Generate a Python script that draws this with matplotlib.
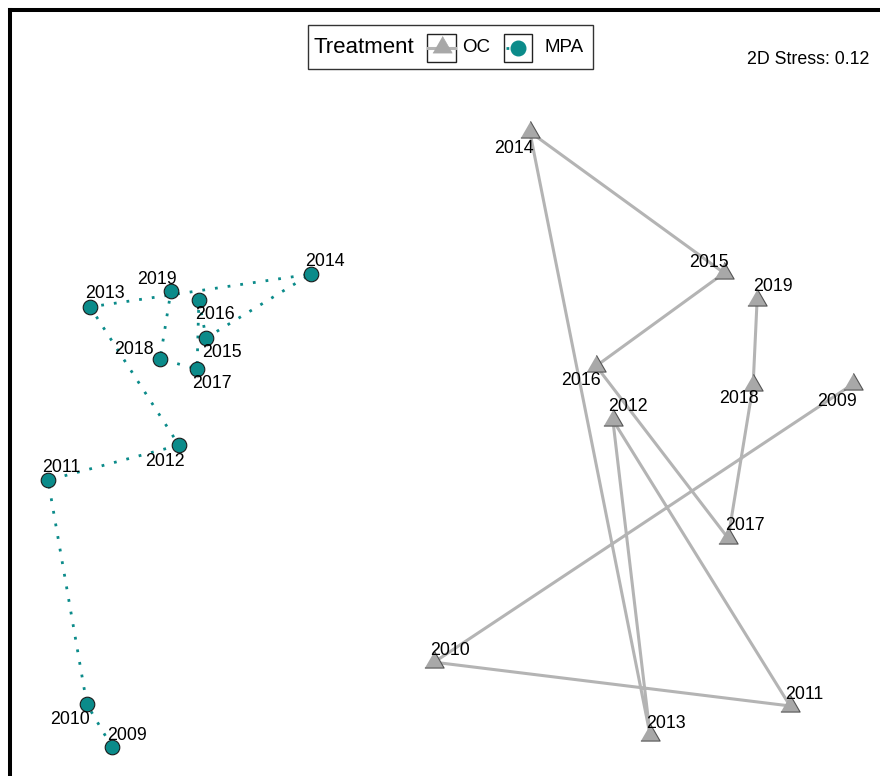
import matplotlib
matplotlib.use("Agg")
import matplotlib.pyplot as plt
import matplotlib.patches as mpatches

plt.rcParams["font.family"] = ["Liberation Sans", "DejaVu Sans"]

# NMDS site scores per year, one series per treatment
years = [2009, 2010, 2011, 2012, 2013, 2014, 2015, 2016, 2017, 2018, 2019]

mpa_nmds1 = [-0.919, -0.988, -1.095, -0.734, -0.979, -0.370, -0.659, -0.679, -0.684, -0.786, -0.756]
mpa_nmds2 = [-0.920, -0.803, -0.189, -0.093, 0.286, 0.376, 0.201, 0.305, 0.116, 0.143, 0.330]

oc_nmds1 = [1.126, -0.030, 0.952, 0.463, 0.566, 0.234, 0.770, 0.417, 0.781, 0.850, 0.861]
oc_nmds2 = [0.075, -0.688, -0.808, -0.024, -0.888, 0.766, 0.379, 0.124, -0.348, 0.072, 0.305]

stress = 0.12

# label nudges in pixels (dx right, dy down)
mpa_nudge = [(15, -11), (-17, 15), (13, -13), (-14, 16), (15, -13), (14, -13),
             (16, 15), (16, 15), (15, 15), (-26, -10), (-14, -11)]
oc_nudge = [(-16, 18), (16, -12), (14, -11), (15, -13), (16, -12), (-16, 17),
            (-15, -10), (-15, 14), (17, -13), (-14, 14), (16, -13)]

TEAL = "#0B8B8A"
GREY_LINE = "#B4B4B4"
GREY_FILL = "#A8A8A8"
TRI = [(-1, -0.577), (1, -0.577), (0, 1.155)]
LABEL_SIZE = 12.8

W, H = 880, 776
fig = plt.figure(figsize=(W / 100, H / 100), dpi=100)
ax = fig.add_axes([10 / W, 0, 1 - 10 / W, 1 - 10 / H])
ax.set_xlim(-1.2, 1.2)
ax.set_ylim(-1.0, 1.1)
ax.set_xticks([])
ax.set_yticks([])
for side in ["right", "bottom"]:
    ax.spines[side].set_visible(False)
for side in ["left", "top"]:
    ax.spines[side].set_linewidth(2.9)
    ax.spines[side].set_color("black")

# OC trajectory
ax.plot(oc_nmds1, oc_nmds2, color=GREY_LINE, lw=2.2, zorder=1, solid_capstyle="round")
ax.plot(oc_nmds1, oc_nmds2, linestyle="none", marker=TRI, markersize=16,
        markerfacecolor=GREY_FILL, markeredgecolor="#555555", markeredgewidth=0.8, zorder=3)

# MPA trajectory
ax.plot(mpa_nmds1, mpa_nmds2, color=TEAL, lw=2.0, dashes=(1, 3.6), zorder=1)
ax.plot(mpa_nmds1, mpa_nmds2, linestyle="none", marker="o", markersize=10.5,
        markerfacecolor=TEAL, markeredgecolor="#1a1a1a", markeredgewidth=0.8, zorder=3)

for yr, x, y, (dx, dy) in zip(years, mpa_nmds1, mpa_nmds2, mpa_nudge):
    ax.annotate(str(yr), (x, y), xytext=(dx, -dy), textcoords="offset pixels",
                ha="center", va="center", fontsize=LABEL_SIZE, zorder=4)
for yr, x, y, (dx, dy) in zip(years, oc_nmds1, oc_nmds2, oc_nudge):
    ax.annotate(str(yr), (x, y), xytext=(dx, -dy), textcoords="offset pixels",
                ha="center", va="center", fontsize=LABEL_SIZE, zorder=4)

# overlay in pixel units for legend and stress note
ov = fig.add_axes([0, 0, 1, 1], zorder=5)
ov.set_xlim(0, W)
ov.set_ylim(H, 0)
ov.axis("off")

ov.text(869, 60, f"2D Stress: {stress:.2f}", ha="right", va="center", fontsize=12.8)

ov.add_patch(mpatches.Rectangle((308, 25), 285, 44, fill=False, edgecolor="#333333", lw=1.0))
ov.text(313, 47.5, "Treatment", ha="left", va="center", fontsize=16)

ov.add_patch(mpatches.Rectangle((427, 34), 29, 28, fill=False, edgecolor="#222222", lw=1.0))
ov.plot([428, 455], [48, 48], color=GREY_LINE, lw=2.2)
ov.plot([441.5], [47], linestyle="none", marker=TRI, markersize=16,
        markerfacecolor=GREY_FILL, markeredgecolor=GREY_FILL, markeredgewidth=0.5)
ov.text(462, 48, "OC", ha="left", va="center", fontsize=13.5)

ov.add_patch(mpatches.Rectangle((504, 34), 28, 28, fill=False, edgecolor="#222222", lw=1.0))
ov.plot([506, 530], [48, 48], color=TEAL, lw=2.0, dashes=(1, 3.6))
ov.plot([518], [48], linestyle="none", marker="o", markersize=10.5,
        markerfacecolor=TEAL, markeredgecolor=TEAL)
ov.text(544, 48, "MPA", ha="left", va="center", fontsize=13.5)

fig.savefig("out.png", dpi=100, facecolor="white")
